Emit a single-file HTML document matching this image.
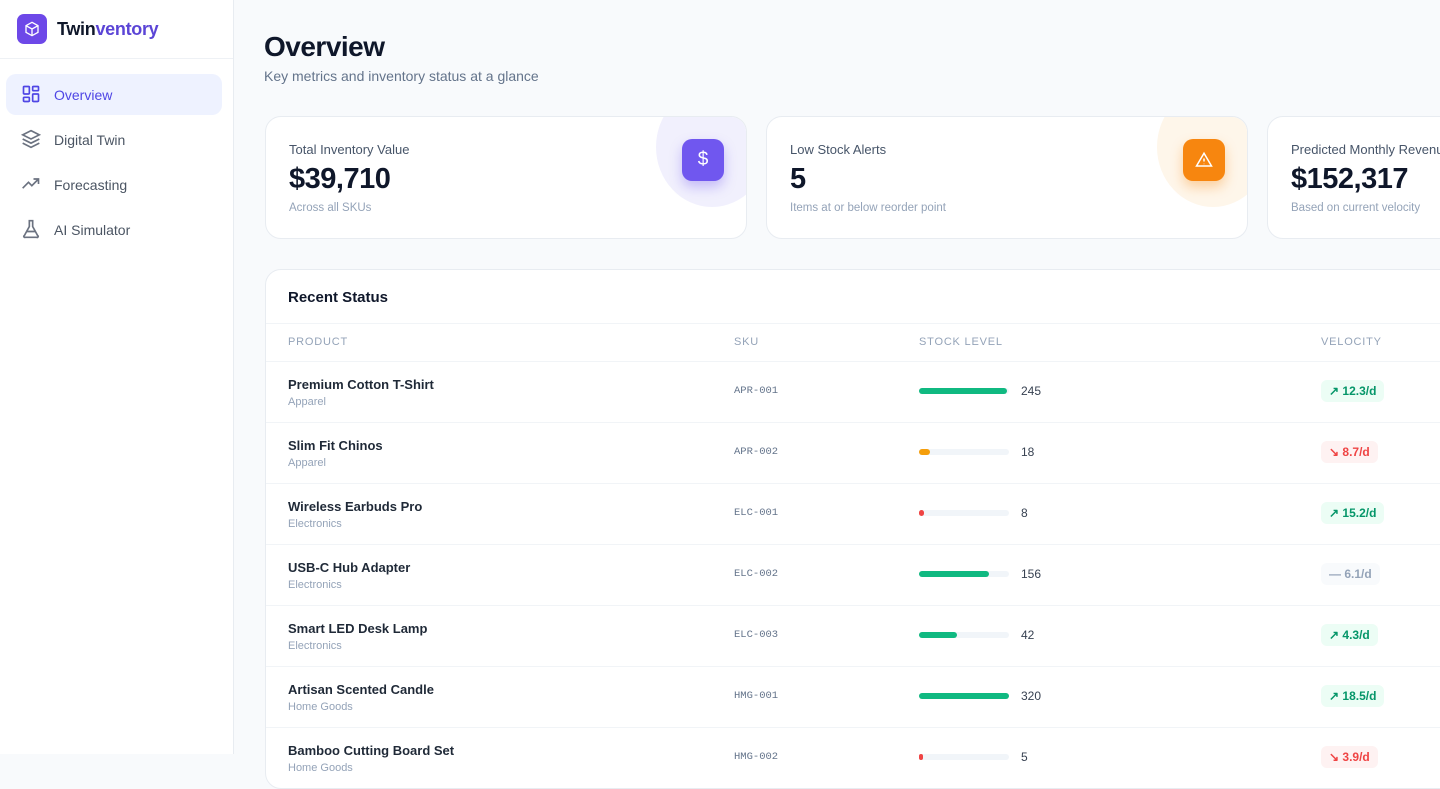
<!DOCTYPE html>
<html><head><meta charset="utf-8"><style>
*{box-sizing:border-box;margin:0;padding:0}
body{width:1440px;height:754px;overflow:hidden;background:#f8fafc;font-family:"Liberation Sans",sans-serif;color:#0f172a;position:relative}
.side{position:absolute;left:0;top:0;width:234px;height:754px;background:#fff;border-right:1px solid #e8ecf1}
.logo{position:absolute;left:17px;top:14px;width:30px;height:30px;border-radius:7px;background:#6d48e8;display:flex;align-items:center;justify-content:center}
.brand{position:absolute;left:57px;top:19px;font-size:18px;font-weight:bold;letter-spacing:-0.3px}
.brand span{color:#5b45d6}
.hr{position:absolute;left:0;top:58px;width:233px;border-top:1px solid #eef1f5}
.nav{position:absolute;left:6px;width:216px;height:41px;border-radius:10px;font-size:14px;color:#4b5563;display:flex;align-items:center;padding-left:48px}
.nav svg{position:absolute;left:15px;top:10px}
.nav.act{background:#eef2ff;color:#4f46e5}
.card{position:absolute;top:116px;height:123px;background:#fff;border:1px solid #e8ecf1;border-radius:16px;overflow:hidden}
.card .l{position:absolute;left:23px;top:25px;font-size:13px;color:#475569}
.card .v{position:absolute;left:23px;top:46px;font-size:29px;font-weight:bold;letter-spacing:-0.5px}
.card .s{position:absolute;left:23px;top:85px;font-size:11.5px;color:#94a3b8}
.card .c{position:absolute;right:-22px;top:-30px;width:112px;height:120px;border-radius:50%}
.card .i{position:absolute;right:22px;top:22px;width:42px;height:42px;border-radius:10px;display:flex;align-items:center;justify-content:center;color:#fff;font-size:19px}
.tbl{position:absolute;left:265px;top:269px;width:1200px;height:520px;background:#fff;border:1px solid #e8ecf1;border-radius:16px;overflow:hidden}
.tt{position:absolute;left:22px;top:19px;font-size:15px;font-weight:bold}
.th{position:absolute;top:66px;font-size:11px;color:#94a3b8;letter-spacing:0.8px}
.line{position:absolute;left:0;width:1200px;border-top:1px solid #f1f4f7}
.row{position:absolute;left:0;width:1200px;height:61px}
.pn{position:absolute;left:22px;top:15px;font-size:13px;font-weight:bold;color:#1f2937}
.pc{position:absolute;left:22px;top:34px;font-size:11px;color:#94a3b8}
.sku{position:absolute;left:468px;top:23px;font-family:"Liberation Mono",monospace;font-size:10.5px;color:#64748b}
.bar{position:absolute;left:653px;top:26px;width:90px;height:6px;border-radius:3px;background:#f1f5f9}
.bar i{position:absolute;left:0;top:0;height:6px;border-radius:3px}
.q{position:absolute;left:755px;top:22px;font-size:12px;color:#374151}
.bd{position:absolute;left:1055px;top:18px;height:22px;border-radius:6px;font-size:12px;padding:0 8px;display:flex;align-items:center;font-weight:bold}
.g{background:#ecfdf5;color:#059669}.r{background:#fef2f2;color:#ef4444}.n{background:#f8fafc;color:#94a3b8}
</style></head><body>
<div class="side">
<div class="logo"><svg width="16" height="16" viewBox="0 0 24 24" fill="none" stroke="#fff" stroke-width="2"><path d="M12 2l9 5v10l-9 5-9-5V7z"/><path d="M3 7l9 5 9-5M12 12v10"/></svg></div>
<div class="brand">Twin<span>ventory</span></div>
<div class="hr"></div>
<div class="nav act" style="top:74px"><svg width="20" height="20" viewBox="0 0 24 24" fill="none" stroke="#4f46e5" stroke-width="2"><rect x="3" y="3" width="7" height="9" rx="1"/><rect x="14" y="3" width="7" height="5" rx="1"/><rect x="14" y="12" width="7" height="9" rx="1"/><rect x="3" y="16" width="7" height="5" rx="1"/></svg>Overview</div>
<div class="nav" style="top:119px"><svg width="20" height="20" viewBox="0 0 24 24" fill="none" stroke="#6b7280" stroke-width="2"><path d="M12 2l10 5-10 5L2 7z"/><path d="M2 12l10 5 10-5M2 17l10 5 10-5"/></svg>Digital Twin</div>
<div class="nav" style="top:164px"><svg width="20" height="20" viewBox="0 0 24 24" fill="none" stroke="#6b7280" stroke-width="2"><path d="M2 17l7-7 4 4 8-8M15 6h6v6"/></svg>Forecasting</div>
<div class="nav" style="top:209px"><svg width="20" height="20" viewBox="0 0 24 24" fill="none" stroke="#6b7280" stroke-width="2"><path d="M9 2h6M10 2v7L4 20a1 1 0 001 2h14a1 1 0 001-2L14 9V2M6 15h12"/></svg>AI Simulator</div>
</div>
<div style="position:absolute;left:264px;top:31px;font-size:28px;font-weight:bold;letter-spacing:-0.5px">Overview</div>
<div style="position:absolute;left:264px;top:68px;font-size:14px;color:#64748b">Key metrics and inventory status at a glance</div>
<div class="card" style="left:265px;width:482px"><div class="c" style="background:#f1f0fd"></div><div class="i" style="background:#7057ef;box-shadow:0 6px 12px rgba(112,87,239,.35)">$</div><div class="l">Total Inventory Value</div><div class="v">$39,710</div><div class="s">Across all SKUs</div></div>
<div class="card" style="left:766px;width:482px"><div class="c" style="background:#fef6ea"></div><div class="i" style="background:#f7860f;box-shadow:0 6px 12px rgba(247,134,15,.35)"><svg width="18" height="18" viewBox="0 0 24 24" fill="none" stroke="#fff" stroke-width="2"><path d="M12 3L2 20h20z"/><path d="M12 10v4M12 17v.5"/></svg></div><div class="l">Low Stock Alerts</div><div class="v">5</div><div class="s">Items at or below reorder point</div></div>
<div class="card" style="left:1267px;width:482px"><div class="l">Predicted Monthly Revenue</div><div class="v">$152,317</div><div class="s">Based on current velocity</div></div>
<div class="tbl">
<div class="tt">Recent Status</div>
<div class="line" style="top:53px"></div>
<div class="th" style="left:22px">PRODUCT</div><div class="th" style="left:468px">SKU</div><div class="th" style="left:653px">STOCK LEVEL</div><div class="th" style="left:1055px">VELOCITY</div>
<div class="line" style="top:91px"></div>
<div class="row" style="top:92px"><div class="pn">Premium Cotton T-Shirt</div><div class="pc">Apparel</div><div class="sku">APR-001</div><div class="bar"><i style="width:88px;background:#10b981"></i></div><div class="q">245</div><div class="bd g">↗ 12.3/d</div></div>
<div class="line" style="top:152px"></div>
<div class="row" style="top:153px"><div class="pn">Slim Fit Chinos</div><div class="pc">Apparel</div><div class="sku">APR-002</div><div class="bar"><i style="width:11px;background:#f59e0b"></i></div><div class="q">18</div><div class="bd r">↘ 8.7/d</div></div>
<div class="line" style="top:213px"></div>
<div class="row" style="top:214px"><div class="pn">Wireless Earbuds Pro</div><div class="pc">Electronics</div><div class="sku">ELC-001</div><div class="bar"><i style="width:5px;background:#ef4444"></i></div><div class="q">8</div><div class="bd g">↗ 15.2/d</div></div>
<div class="line" style="top:274px"></div>
<div class="row" style="top:275px"><div class="pn">USB-C Hub Adapter</div><div class="pc">Electronics</div><div class="sku">ELC-002</div><div class="bar"><i style="width:70px;background:#10b981"></i></div><div class="q">156</div><div class="bd n">— 6.1/d</div></div>
<div class="line" style="top:335px"></div>
<div class="row" style="top:336px"><div class="pn">Smart LED Desk Lamp</div><div class="pc">Electronics</div><div class="sku">ELC-003</div><div class="bar"><i style="width:38px;background:#10b981"></i></div><div class="q">42</div><div class="bd g">↗ 4.3/d</div></div>
<div class="line" style="top:396px"></div>
<div class="row" style="top:397px"><div class="pn">Artisan Scented Candle</div><div class="pc">Home Goods</div><div class="sku">HMG-001</div><div class="bar"><i style="width:90px;background:#10b981"></i></div><div class="q">320</div><div class="bd g">↗ 18.5/d</div></div>
<div class="line" style="top:457px"></div>
<div class="row" style="top:458px"><div class="pn">Bamboo Cutting Board Set</div><div class="pc">Home Goods</div><div class="sku">HMG-002</div><div class="bar"><i style="width:4px;background:#ef4444"></i></div><div class="q">5</div><div class="bd r">↘ 3.9/d</div></div>
</div>
</body></html>
